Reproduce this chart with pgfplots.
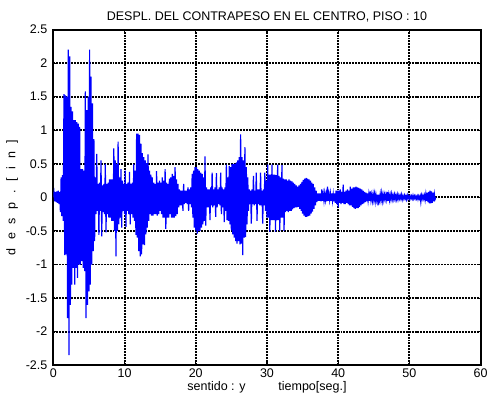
\documentclass[border=0pt]{standalone}
\usepackage{pgfplots}
\pgfplotsset{compat=1.18}
\usepackage{pgfplotstable}
\usepackage{fontspec}
\setmainfont{Liberation Sans}
\pgfplotstableread{
t y
0.0 0.00
0.1 0.07
0.2 -0.06
0.3 0.08
0.4 -0.07
0.5 0.09
0.6 -0.08
0.7 0.10
0.8 -0.10
0.9 0.08
1.0 -0.22
1.1 0.30
1.2 -0.28
1.3 0.33
1.4 -0.35
1.5 1.54
1.6 -0.86
1.7 1.52
1.8 -0.85
1.9 1.50
2.0 -1.80
2.1 2.20
2.2 -2.35
2.3 2.10
2.4 -1.60
2.5 1.35
2.6 -1.30
2.7 1.28
2.8 -1.05
2.9 1.15
3.0 -1.30
3.1 1.15
3.2 -1.05
3.3 1.12
3.4 -1.20
3.5 1.10
3.6 -1.00
3.7 1.05
3.8 -1.00
3.9 0.42
4.0 -0.95
4.1 0.42
4.2 -1.05
4.3 0.40
4.4 -1.10
4.5 1.58
4.6 -1.80
4.7 1.30
4.8 -1.60
4.9 1.50
5.0 -1.40
5.1 2.20
5.2 -1.30
5.3 1.80
5.4 -1.00
5.5 1.40
5.6 -0.80
5.7 0.87
5.8 -0.65
5.9 0.30
6.0 -0.25
6.1 0.65
6.2 -0.20
6.3 0.20
6.4 -0.56
6.5 0.22
6.6 -0.20
6.7 0.55
6.8 -0.58
6.9 0.18
7.0 -0.22
7.1 0.20
7.2 -0.25
7.3 0.50
7.4 -0.52
7.5 0.20
7.6 -0.25
7.7 0.22
7.8 -0.30
7.9 0.27
8.0 -0.30
8.1 0.27
8.2 -0.35
8.3 0.27
8.4 -0.35
8.5 0.73
8.6 -0.50
8.7 0.55
8.8 -0.88
8.9 0.50
9.0 -0.50
9.1 0.83
9.2 -0.40
9.3 0.30
9.4 -0.30
9.5 0.42
9.6 -0.45
9.7 0.25
9.8 -0.20
9.9 0.20
10.0 -0.25
10.1 0.40
10.2 -0.44
10.3 0.20
10.4 -0.20
10.5 0.22
10.6 -0.25
10.7 0.38
10.8 -0.40
10.9 0.20
11.0 -0.25
11.1 0.22
11.2 -0.30
11.3 0.50
11.4 -0.35
11.5 0.40
11.6 -0.56
11.7 0.95
11.8 -0.60
11.9 0.95
12.0 -0.80
12.1 0.93
12.2 -0.88
12.3 0.80
12.4 -0.85
12.5 0.66
12.6 -0.70
12.7 0.60
12.8 -0.71
12.9 0.55
13.0 -0.55
13.1 0.51
13.2 -0.45
13.3 0.64
13.4 -0.35
13.5 0.40
13.6 -0.25
13.7 0.34
13.8 -0.27
13.9 0.30
14.0 -0.27
14.1 0.22
14.2 -0.25
14.3 0.20
14.4 -0.25
14.5 0.39
14.6 -0.27
14.7 0.22
14.8 -0.25
14.9 0.25
15.0 -0.20
15.1 0.22
15.2 -0.25
15.3 0.30
15.4 -0.30
15.5 0.25
15.6 -0.30
15.7 0.42
15.8 -0.47
15.9 0.22
16.0 -0.30
16.1 0.20
16.2 -0.30
16.3 0.28
16.4 -0.25
16.5 0.30
16.6 -0.30
16.7 0.35
16.8 -0.30
16.9 0.32
17.0 -0.30
17.1 0.45
17.2 -0.28
17.3 0.27
17.4 -0.25
17.5 0.20
17.6 -0.15
17.7 0.12
17.8 -0.12
17.9 0.10
18.0 -0.12
18.1 0.10
18.2 -0.20
18.3 0.20
18.4 -0.10
18.5 0.10
18.6 -0.08
18.7 0.10
18.8 -0.10
18.9 0.15
19.0 -0.20
19.1 0.12
19.2 -0.10
19.3 0.15
19.4 -0.15
19.5 0.35
19.6 -0.30
19.7 0.40
19.8 -0.45
19.9 0.45
20.0 -0.49
20.1 0.45
20.2 -0.54
20.3 0.42
20.4 -0.50
20.5 0.40
20.6 -0.50
20.7 0.37
20.8 -0.45
20.9 0.35
21.0 -0.40
21.1 0.30
21.2 -0.35
21.3 0.61
21.4 -0.42
21.5 0.15
21.6 -0.15
21.7 0.12
21.8 -0.15
21.9 0.12
22.0 -0.34
22.1 0.15
22.2 -0.12
22.3 0.37
22.4 -0.15
22.5 0.12
22.6 -0.12
22.7 0.15
22.8 -0.29
22.9 0.36
23.0 -0.15
23.1 0.12
23.2 -0.10
23.3 0.15
23.4 -0.12
23.5 0.37
23.6 -0.25
23.7 0.15
23.8 -0.15
23.9 0.12
24.0 -0.37
24.1 0.15
24.2 -0.20
24.3 0.49
24.4 -0.34
24.5 0.30
24.6 -0.35
24.7 0.47
24.8 -0.40
24.9 0.45
25.0 -0.49
25.1 0.50
25.2 -0.55
25.3 0.50
25.4 -0.60
25.5 0.50
25.6 -0.65
25.7 0.52
25.8 -0.69
25.9 0.55
26.0 -0.65
26.1 0.60
26.2 -0.70
26.3 0.94
26.4 -0.69
26.5 0.60
26.6 -0.86
26.7 0.55
26.8 -0.60
26.9 0.75
27.0 -0.59
27.1 0.45
27.2 -0.40
27.3 0.30
27.4 -0.20
27.5 0.12
27.6 -0.10
27.7 0.10
27.8 -0.39
27.9 0.12
28.0 -0.10
28.1 0.32
28.2 -0.12
28.3 0.10
28.4 -0.10
28.5 0.37
28.6 -0.35
28.7 0.12
28.8 -0.10
28.9 0.12
29.0 -0.12
29.1 0.37
29.2 -0.12
29.3 0.10
29.4 -0.39
29.5 0.12
29.6 -0.12
29.7 0.37
29.8 -0.20
29.9 0.25
30.0 -0.30
30.1 0.49
30.2 -0.30
30.3 0.34
30.4 -0.51
30.5 0.34
30.6 -0.34
30.7 0.49
30.8 -0.34
30.9 0.34
31.0 -0.34
31.1 0.34
31.2 -0.51
31.3 0.33
31.4 -0.34
31.5 0.49
31.6 -0.34
31.7 0.32
31.8 -0.50
31.9 0.30
32.0 -0.30
32.1 0.48
32.2 -0.30
32.3 0.28
32.4 -0.50
32.5 0.27
32.6 -0.22
32.7 0.27
32.8 -0.20
32.9 0.25
33.0 -0.22
33.1 0.27
33.2 -0.20
33.3 0.25
33.4 -0.20
33.5 0.24
33.6 -0.18
33.7 0.22
33.8 -0.16
33.9 0.20
34.0 -0.15
34.1 0.18
34.2 -0.15
34.3 0.16
34.4 -0.14
34.5 0.18
34.6 -0.17
34.7 0.20
34.8 -0.20
34.9 0.23
35.0 -0.24
35.1 0.26
35.2 -0.27
35.3 0.28
35.4 -0.29
35.5 0.29
35.6 -0.29
35.7 0.28
35.8 -0.28
35.9 0.27
36.0 -0.27
36.1 0.25
36.2 -0.24
36.3 0.22
36.4 -0.21
36.5 0.20
36.6 -0.17
36.7 0.15
36.8 -0.12
36.9 0.10
37.0 -0.07
37.1 0.06
37.2 -0.05
37.3 0.06
37.4 -0.05
37.5 0.06
37.6 -0.06
37.7 0.12
37.8 -0.05
37.9 0.05
38.0 -0.05
38.1 0.06
38.2 -0.04
38.3 0.05
38.4 -0.06
38.5 0.16
38.6 -0.05
38.7 0.05
38.8 -0.04
38.9 0.06
39.0 -0.05
39.1 0.06
39.2 -0.05
39.3 0.05
39.4 -0.06
39.5 0.06
39.6 -0.08
39.7 0.10
39.8 -0.10
39.9 0.10
40.0 -0.15
40.1 0.10
40.2 -0.08
40.3 0.12
40.4 -0.10
40.5 0.08
40.6 -0.08
40.7 0.19
40.8 -0.10
40.9 0.08
41.0 -0.10
41.1 0.10
41.2 -0.08
41.3 0.12
41.4 -0.10
41.5 0.10
41.6 -0.12
41.7 0.16
41.8 -0.12
41.9 0.13
42.0 -0.14
42.1 0.15
42.2 -0.16
42.3 0.15
42.4 -0.17
42.5 0.16
42.6 -0.16
42.7 0.15
42.8 -0.16
42.9 0.14
43.0 -0.14
43.1 0.13
43.2 -0.12
43.3 0.12
43.4 -0.10
43.5 0.10
43.6 -0.09
43.7 0.08
43.8 -0.07
43.9 0.07
44.0 -0.06
44.1 0.06
44.2 -0.05
44.3 0.05
44.4 -0.05
44.5 0.09
44.6 -0.04
44.7 0.04
44.8 -0.05
44.9 0.05
45.0 -0.04
45.1 0.05
45.2 -0.06
45.3 0.04
45.4 -0.04
45.5 0.04
45.6 -0.12
45.7 0.04
45.8 -0.04
45.9 0.05
46.0 -0.04
46.1 0.06
46.2 -0.05
46.3 0.04
46.4 -0.04
46.5 0.04
46.6 -0.03
46.7 0.04
46.8 -0.03
46.9 0.08
47.0 -0.05
47.1 0.04
47.2 -0.04
47.3 0.04
47.4 -0.03
47.5 0.05
47.6 -0.03
47.7 0.03
47.8 -0.03
47.9 0.04
48.0 -0.03
48.1 0.03
48.2 -0.03
48.3 0.04
48.4 -0.03
48.5 0.03
48.6 -0.02
48.7 0.03
48.8 -0.02
48.9 0.04
49.0 -0.03
49.1 0.02
49.2 -0.02
49.3 0.03
49.4 -0.02
49.5 0.02
49.6 -0.03
49.7 0.03
49.8 -0.02
49.9 0.02
50.0 -0.02
50.1 0.02
50.2 -0.02
50.3 0.02
50.4 -0.02
50.5 0.03
50.6 -0.02
50.7 0.02
50.8 -0.02
50.9 0.02
51.0 -0.02
51.1 0.02
51.2 -0.03
51.3 0.02
51.4 -0.02
51.5 0.02
51.6 -0.07
51.7 0.03
51.8 -0.02
51.9 0.03
52.0 -0.02
52.1 0.03
52.2 -0.04
52.3 0.05
52.4 -0.05
52.5 0.07
52.6 -0.07
52.7 0.08
52.8 -0.09
52.9 0.10
53.0 -0.09
53.1 0.09
53.2 -0.08
53.3 0.07
53.4 -0.06
53.5 0.05
53.6 -0.03
53.7 0.00
}\datatable
\newcommand{\lsp}{\hspace{6.5pt}}
\begin{document}
\begin{tikzpicture}
\begin{axis}[
  name=ax,
  scale only axis,
  width=324.75pt, height=255pt,
  xmin=0, xmax=60, ymin=-2.5, ymax=2.5,
  xtick={0,10,...,60},
  ytick={-2.5,-2,...,2.5},
  grid=major,
  major grid style={black, line width=1.5pt, dash pattern=on 1.5pt off 0.75pt},
  axis line style={black, line width=1.5pt},
  tick style={black, line width=0.8pt},
  major tick length=3pt,
  tick align=inside,
  /pgf/number format/assume math mode=true,
  /pgf/number format/fixed,
  ticklabel style={font=\fontsize{9.5}{11}\selectfont},
  xticklabel style={yshift=1pt},
  yticklabel style={xshift=-1pt},
  title={DESPL. DEL CONTRAPESO EN EL CENTRO, PISO : 10},
  title style={font=\fontsize{9.5}{11}\selectfont, yshift=-4pt},
  xlabel={sentido : y\hspace{25pt}tiempo[seg.]},
  xlabel style={font=\fontsize{9.5}{11}\selectfont, yshift=4pt},
  ylabel={d\lsp e\lsp s\lsp p\lsp .\lsp [\lsp i\lsp n\lsp ]},
  ylabel style={font=\fontsize{9.5}{11}\selectfont, yshift=-1pt},
]
\addplot[blue, line width=0.9pt, mark=none] table[x=t, y=y] {\datatable};
\end{axis}
\path ([xshift=-40.5pt,yshift=-27.75pt]ax.south west) rectangle ([xshift=3.75pt,yshift=22.5pt]ax.north east);
\end{tikzpicture}
\end{document}
